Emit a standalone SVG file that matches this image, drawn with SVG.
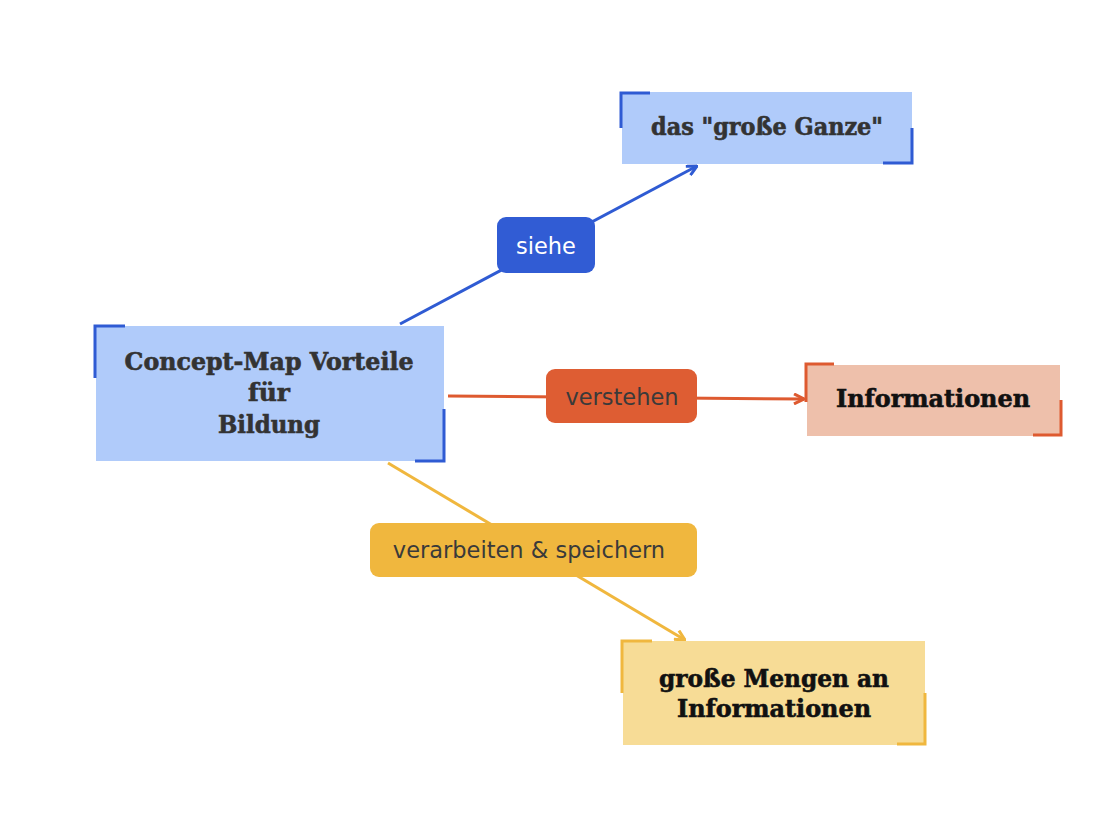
<svg xmlns="http://www.w3.org/2000/svg" width="1110" height="840" viewBox="0 0 1110 840">
<style>
.node{font-family:"DejaVu Serif","Liberation Serif",serif;font-weight:bold;font-size:23.5px;text-anchor:middle;stroke-width:0.6}
.lbl{font-family:"DejaVu Sans","Liberation Sans",sans-serif;font-size:22.5px;text-anchor:middle}
.br{fill:none;stroke-width:3}
.edge{fill:none;stroke-width:3}
</style>
<defs>
<marker id="aB" viewBox="0 0 12 12" refX="11" refY="6" markerWidth="12" markerHeight="12" markerUnits="userSpaceOnUse" orient="auto"><path d="M1,1 L11,6 L1,11" fill="none" stroke="#2f5bd3" stroke-width="3"/></marker>
<marker id="aO" viewBox="0 0 12 12" refX="11" refY="6" markerWidth="12" markerHeight="12" markerUnits="userSpaceOnUse" orient="auto"><path d="M1,1 L11,6 L1,11" fill="none" stroke="#de5a30" stroke-width="3"/></marker>
<marker id="aY" viewBox="0 0 12 12" refX="11" refY="6" markerWidth="12" markerHeight="12" markerUnits="userSpaceOnUse" orient="auto"><path d="M1,1 L11,6 L1,11" fill="none" stroke="#f0b73e" stroke-width="3"/></marker>
</defs>
<rect width="1110" height="840" fill="#ffffff"/>
<g id="connectors">
<line class="edge" x1="400" y1="324" x2="697" y2="166" stroke="#2f5bd3" marker-end="url(#aB)"/>
<line class="edge" x1="448" y1="396" x2="804" y2="399" stroke="#de5a30" marker-end="url(#aO)"/>
<line class="edge" x1="388" y1="463" x2="685" y2="640" stroke="#f0b73e" marker-end="url(#aY)"/>
</g>
<g id="label-siehe">
<rect x="497" y="217" width="98" height="56" rx="9" fill="#315cd4"/>
<text class="lbl" x="546" y="254" fill="#ffffff">siehe</text>
</g>
<g id="label-verstehen">
<rect x="546" y="369" width="151" height="54" rx="9" fill="#de5d33"/>
<text class="lbl" x="622" y="405" fill="#3a3a3a">verstehen</text>
</g>
<g id="label-verarbeiten">
<rect x="370" y="523" width="327" height="54" rx="9" fill="#f0b73e"/>
<text class="lbl" x="529" y="558" fill="#3a3a3a">verarbeiten &amp; speichern</text>
</g>
<g id="node-main">
<rect x="96" y="326" width="348" height="135" fill="#b0cbfa"/>
<path class="br" d="M125,326 H95 V378" stroke="#2f5bd3"/>
<path class="br" d="M444,409 V461 H415" stroke="#2f5bd3"/>
<text class="node" fill="#333333" stroke="#333333"><tspan x="269" y="370" textLength="289" lengthAdjust="spacingAndGlyphs">Concept-Map Vorteile</tspan><tspan x="269" y="401" textLength="42" lengthAdjust="spacingAndGlyphs">für</tspan><tspan x="269" y="433" textLength="102" lengthAdjust="spacingAndGlyphs">Bildung</tspan></text>
</g>
<g id="node-ganze">
<rect x="622" y="92" width="290" height="72" fill="#b0cbfa"/>
<path class="br" d="M650,93 H621 V128" stroke="#2f5bd3"/>
<path class="br" d="M912,128 V163 H883" stroke="#2f5bd3"/>
<text class="node" x="767" y="135" fill="#333333" stroke="#333333" textLength="232" lengthAdjust="spacingAndGlyphs">das "große Ganze"</text>
</g>
<g id="node-informationen">
<rect x="807" y="365" width="253" height="71" fill="#eec0ab"/>
<path class="br" d="M834,364 H806 V402" stroke="#de5a30"/>
<path class="br" d="M1061,400 V435 H1033" stroke="#de5a30"/>
<text class="node" x="933" y="407" fill="#111111" stroke="#111111" textLength="194" lengthAdjust="spacingAndGlyphs">Informationen</text>
</g>
<g id="node-mengen">
<rect x="623" y="641" width="302" height="104" fill="#f7dc96"/>
<path class="br" d="M652,641 H622 V693" stroke="#f0b73e"/>
<path class="br" d="M925,693 V744 H897" stroke="#f0b73e"/>
<text class="node" fill="#111111" stroke="#111111"><tspan x="774" y="687" textLength="230" lengthAdjust="spacingAndGlyphs">große Mengen an</tspan><tspan x="774" y="717" textLength="194" lengthAdjust="spacingAndGlyphs">Informationen</tspan></text>
</g>
</svg>
